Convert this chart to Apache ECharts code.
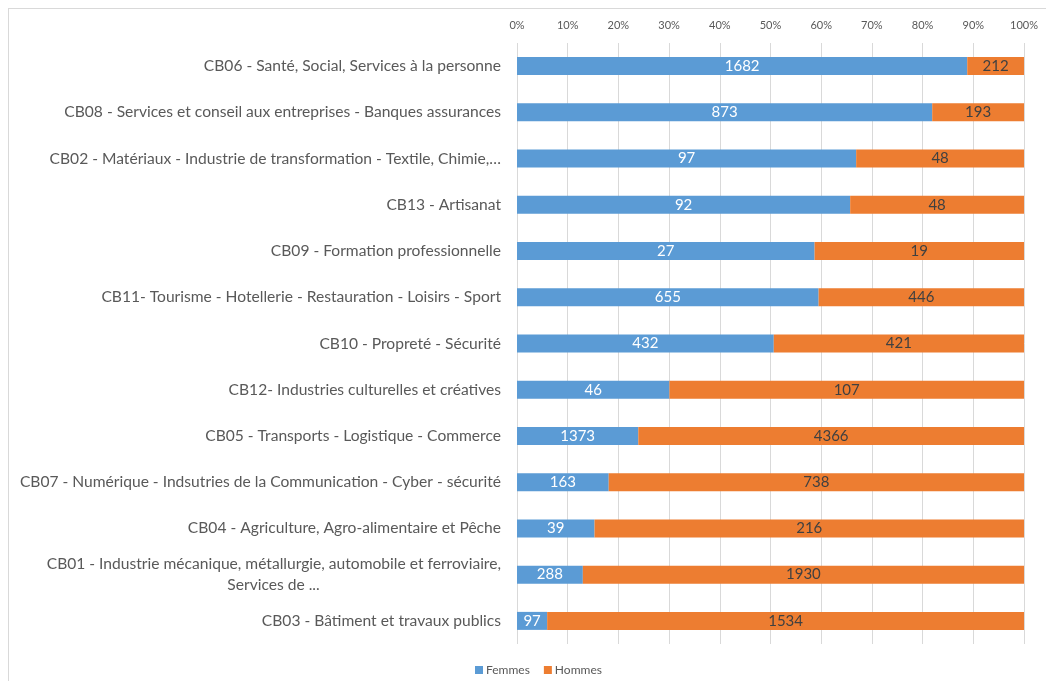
<!DOCTYPE html>
<html>
<head>
<meta charset="utf-8">
<script src="https://cdn.jsdelivr.net/npm/echarts@6/dist/echarts.min.js"></script>
<style>
html,body{margin:0;padding:0;background:#fff;}
#frame{position:absolute;left:8px;top:8px;width:1100px;height:700px;border:1px solid #d9d9d9;box-sizing:border-box;}
#chart{position:absolute;left:0;top:0;width:1046px;height:681px;}
</style>
</head>
<body>
<div id="frame"></div>
<div id="chart"></div>
<script>
const categories = [
  "CB06 - Santé, Social, Services à la personne",
  "CB08 - Services et conseil aux entreprises - Banques assurances",
  "CB02 - Matériaux - Industrie de transformation - Textile, Chimie,…",
  "CB13 - Artisanat",
  "CB09 - Formation professionnelle",
  "CB11- Tourisme - Hotellerie - Restauration - Loisirs - Sport",
  "CB10 - Propreté - Sécurité",
  "CB12- Industries culturelles et créatives",
  "CB05 - Transports - Logistique - Commerce",
  "CB07 - Numérique - Indsutries de la Communication - Cyber - sécurité",
  "CB04 - Agriculture, Agro-alimentaire et Pêche",
  "CB01 - Industrie mécanique, métallurgie, automobile et ferroviaire,\nServices de ...",
  "CB03 - Bâtiment et travaux publics"
];
const femmes = [1682, 873, 97, 92, 27, 655, 432, 46, 1373, 163, 39, 288, 97];
const hommes = [212, 193, 48, 48, 19, 446, 421, 107, 4366, 738, 216, 1930, 1534];
const xTicks = ["0%","10%","20%","30%","40%","50%","60%","70%","80%","90%","100%"];

const totals = femmes.map((f, i) => f + hommes[i]);
const femPct = femmes.map((f, i) => ({value: f / totals[i] * 100, raw: f}));
const homPct = hommes.map((h, i) => ({value: h / totals[i] * 100, raw: h}));

const FONT = 'Lato, "Noto Sans", sans-serif';
const LABEL_SIZE = 15.6;

// measure first line of wrapped label so the second line can be centred under it
const cv = document.createElement('canvas').getContext('2d');
cv.font = LABEL_SIZE + 'px Lato';
const wrapped = categories.find(c => c.indexOf('\n') >= 0);
const firstLineW = Math.ceil(cv.measureText(wrapped.split('\n')[0]).width);

const chart = echarts.init(document.getElementById('chart'), null, {renderer: 'canvas'});
chart.setOption({
  animation: false,
  backgroundColor: 'transparent',
  textStyle: {fontFamily: FONT},
  grid: {left: 517, right: 22, top: 43, bottom: 37, containLabel: false},
  xAxis: {
    type: 'value', position: 'top', min: 0, max: 100, interval: 10,
    axisLine: {show: false}, axisTick: {show: false},
    splitLine: {show: true, lineStyle: {color: '#d9d9d9', width: 1}},
    axisLabel: {color: '#595959', fontSize: 11, margin: 12, fontFamily: FONT,
      formatter: (v) => xTicks[Math.round(v / 10)]}
  },
  yAxis: {
    type: 'category', inverse: true, data: categories,
    axisLine: {show: false}, axisTick: {show: false},
    axisLabel: {
      color: '#595959', fontSize: LABEL_SIZE, margin: 16, fontFamily: FONT,
      formatter: (v) => {
        if (v.indexOf('\n') >= 0) {
          const parts = v.split('\n');
          return '{a|' + parts[0] + '}\n{b|' + parts[1] + '}';
        }
        return v;
      },
      rich: {
        a: {color: '#595959', fontSize: LABEL_SIZE, fontFamily: FONT, lineHeight: 21},
        b: {color: '#595959', fontSize: LABEL_SIZE, fontFamily: FONT, lineHeight: 21,
            width: firstLineW, align: 'center'}
      }
    }
  },
  legend: {
    bottom: 0, left: 470, itemWidth: 8, itemHeight: 8, itemGap: 14,
    icon: 'rect',
    textStyle: {color: '#595959', fontSize: 12, fontFamily: FONT, padding: [0, 0, 0, -2]},
    data: ['Femmes', 'Hommes']
  },
  series: [
    {
      name: 'Femmes', type: 'bar', stack: 'total', barWidth: 18,
      itemStyle: {color: '#5b9bd5'},
      data: femPct,
      label: {show: true, position: 'inside', color: '#ffffff', fontSize: 15, fontFamily: FONT,
        formatter: (p) => String(p.data.raw)}
    },
    {
      name: 'Hommes', type: 'bar', stack: 'total', barWidth: 18,
      itemStyle: {color: '#ed7d31'},
      data: homPct,
      label: {show: true, position: 'inside', color: '#404040', fontSize: 15, fontFamily: FONT,
        formatter: (p) => String(p.data.raw)}
    }
  ]
});
</script>
</body>
</html>
